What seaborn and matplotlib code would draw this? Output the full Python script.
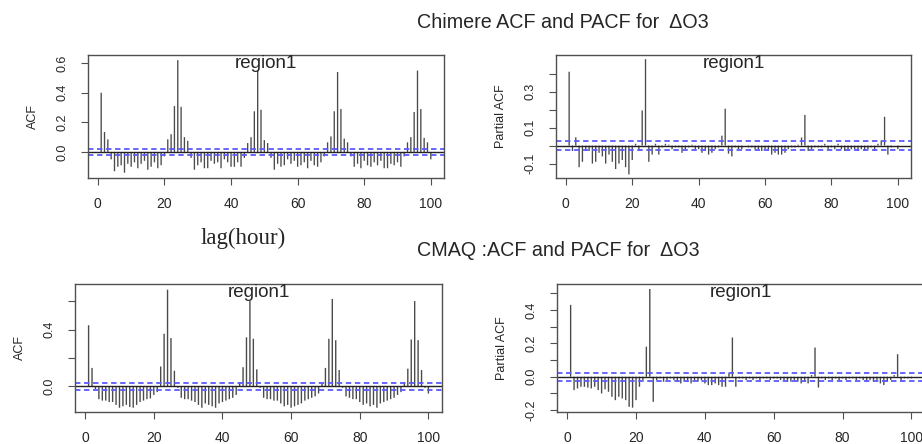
import pandas as pd
import matplotlib
matplotlib.use("Agg")
import matplotlib.pyplot as plt
import seaborn as sns

# lags 1..100 (hours)
lags = list(range(1, 101))

chimere_acf = [
    0.40, 0.135, 0.085, -0.05, -0.13, -0.10, -0.09, -0.14, -0.08, -0.10,
    -0.07, -0.11, -0.08, -0.06, -0.12, -0.10, -0.07, -0.11, -0.09, -0.03,
    0.085, 0.12, 0.31, 0.62, 0.305, 0.10, 0.075, -0.04, -0.12, -0.09,
    -0.07, -0.11, -0.11, -0.06, -0.08, -0.07, -0.11, -0.05, -0.07, -0.10,
    -0.10, -0.07, -0.10, -0.04, 0.06, 0.10, 0.275, 0.55, 0.285, 0.08,
    0.06, -0.04, -0.12, -0.08, -0.10, -0.09, -0.05, -0.08, -0.06, -0.10,
    -0.09, -0.07, -0.11, -0.06, -0.09, -0.10, -0.07, -0.03, 0.065, 0.105,
    0.275, 0.54, 0.29, 0.09, 0.065, -0.03, -0.10, -0.08, -0.11, -0.06,
    -0.09, -0.10, -0.07, -0.09, -0.06, -0.11, -0.11, -0.08, -0.09, -0.07,
    -0.10, -0.03, 0.065, 0.10, 0.27, 0.55, 0.29, 0.095, 0.065, -0.05,
]

chimere_pacf = [
    0.41, -0.03, 0.046, -0.12, -0.09, -0.03, -0.03, -0.10, -0.09, -0.04,
    -0.06, -0.10, -0.05, -0.09, -0.13, -0.10, -0.08, -0.12, -0.16, -0.08,
    0.01, -0.03, 0.195, 0.48, -0.09, -0.05, 0.01, -0.05, -0.01, 0.01,
    0.005, -0.02, -0.01, -0.01, -0.04, -0.02, -0.01, 0.005, -0.02, -0.02,
    -0.04, -0.03, -0.05, -0.04, -0.02, -0.01, 0.055, 0.205, -0.045, -0.06,
    -0.01, -0.02, -0.02, 0.0, -0.01, -0.01, -0.02, -0.02, -0.03, -0.02,
    -0.03, -0.05, -0.04, -0.05, -0.05, -0.04, -0.02, -0.01, -0.01, 0.005,
    0.045, 0.17, -0.03, -0.02, -0.01, -0.01, -0.01, 0.01, -0.02, -0.01,
    -0.02, 0.01, -0.02, -0.03, -0.03, -0.02, -0.02, -0.03, -0.02, -0.03,
    -0.02, -0.01, -0.03, 0.01, 0.028, 0.16, -0.05, -0.01, 0.0, -0.02,
]

cmaq_acf = [
    0.43, 0.13, -0.02, -0.09, -0.10, -0.10, -0.11, -0.11, -0.13, -0.15,
    -0.14, -0.13, -0.145, -0.15, -0.13, -0.11, -0.10, -0.09, -0.085, -0.06,
    -0.04, 0.14, 0.37, 0.68, 0.34, 0.11, -0.01, -0.08, -0.09, -0.09,
    -0.10, -0.11, -0.13, -0.15, -0.12, -0.13, -0.14, -0.15, -0.12, -0.11,
    -0.10, -0.09, -0.08, -0.06, 0.03, 0.135, 0.345, 0.60, 0.335, 0.12,
    -0.01, -0.08, -0.09, -0.09, -0.10, -0.10, -0.12, -0.14, -0.13, -0.15,
    -0.14, -0.13, -0.12, -0.10, -0.09, -0.08, -0.07, -0.05, 0.025, 0.13,
    0.335, 0.615, 0.325, 0.115, -0.01, -0.07, -0.08, -0.09, -0.09, -0.11,
    -0.13, -0.12, -0.14, -0.13, -0.15, -0.12, -0.11, -0.10, -0.09, -0.08,
    -0.06, -0.04, 0.03, 0.125, 0.33, 0.60, 0.325, 0.115, -0.01, -0.05,
]

cmaq_pacf = [
    0.43, -0.08, -0.07, -0.06, -0.06, -0.065, -0.07, -0.06, -0.08, -0.10,
    -0.075, -0.09, -0.12, -0.14, -0.12, -0.13, -0.14, -0.18, -0.185, -0.14,
    -0.06, -0.02, 0.18, 0.525, -0.15, -0.02, -0.01, -0.03, -0.02, -0.01,
    -0.02, -0.03, -0.04, -0.02, -0.03, -0.04, -0.02, -0.03, -0.02, -0.04,
    -0.05, -0.05, -0.04, -0.05, -0.06, -0.06, 0.02, 0.235, -0.06, -0.01,
    -0.01, -0.02, -0.01, -0.02, -0.01, -0.02, -0.01, -0.01, -0.02, -0.01,
    -0.01, -0.02, -0.02, -0.03, -0.03, -0.02, -0.03, -0.04, -0.03, -0.04,
    0.01, 0.175, -0.065, -0.01, -0.02, -0.01, -0.02, -0.01, -0.02, -0.01,
    -0.02, -0.01, -0.01, -0.02, -0.01, -0.02, -0.03, -0.02, -0.03, -0.02,
    -0.04, -0.05, -0.03, -0.02, 0.01, 0.135, -0.03, -0.01, -0.01, -0.01,
]

conf_bound = 0.023
x_ticks = [0, 20, 40, 60, 80, 100]

sns.set_style("ticks")
plt.rcParams["font.family"] = ["Liberation Sans", "DejaVu Sans"]

W, H = 922, 444
fig = plt.figure(figsize=(W / 100, H / 100), dpi=100)


def panel(box):
    left, top, right, bottom = box
    return fig.add_axes([left / W, 1 - bottom / H, (right - left) / W, (bottom - top) / H])


# values, ylabel, frame box (px), ylim, yticks, ytick labels
panels = [
    (chimere_acf, "ACF", (88, 55, 444, 178), (-0.176, 0.655),
     [0.0, 0.2, 0.4, 0.6], ["0.0", "0.2", "0.4", "0.6"]),
    (chimere_pacf, "Partial ACF", (556, 55, 911, 178), (-0.18, 0.503),
     [-0.1, 0.0, 0.1, 0.2, 0.3, 0.4], ["-0.1", "", "0.1", "", "0.3", ""]),
    (cmaq_acf, "ACF", (75, 284, 442, 412), (-0.18, 0.72),
     [0.0, 0.2, 0.4, 0.6], ["0.0", "", "0.4", ""]),
    (cmaq_pacf, "Partial ACF", (557, 284, 925, 412), (-0.211, 0.555),
     [-0.2, -0.1, 0.0, 0.1, 0.2, 0.3, 0.4, 0.5], ["-0.2", "", "0.0", "", "0.2", "", "0.4", ""]),
]

frame_col = "#505050"
for vals, ylab, box, ylim, yt, ytl in panels:
    ax = panel(box)
    df = pd.DataFrame({"lag": lags, "value": vals})
    sns.barplot(data=df, x="lag", y="value", native_scale=True, width=0.4,
                color="#4a4a4a", saturation=1, linewidth=0, errorbar=None, ax=ax)
    for bar in ax.patches:
        bar.set_snap(False)
    ax.axhline(0, color="#222222", lw=1)
    for b in (conf_bound, -conf_bound):
        ax.axhline(b, color="#5a5aff", lw=1.3, ls=(0, (3, 2)))
    ax.set_xlim(-2.96, 103.96)
    ax.set_ylim(*ylim)
    ax.set_xticks(x_ticks, labels=[str(t) for t in x_ticks])
    ax.set_yticks(yt, labels=ytl)
    for s in ax.spines.values():
        s.set_color(frame_col)
        s.set_linewidth(1)
    ax.tick_params(axis="both", length=5, width=0.8, color=frame_col, pad=9)
    ax.tick_params(axis="x", labelsize=10)
    ax.tick_params(axis="y", labelsize=9, labelrotation=90)
    for lab in ax.get_yticklabels():
        lab.set_va("center")
    ax.set_xlabel("")
    ax.set_ylabel(ylab, fontsize=9)
    ax.yaxis.set_label_coords(-55 / (box[2] - box[0]), 0.5)
    ax.yaxis.label.set_va("center")
    ax.text(0.5, 0.998, "region1", transform=ax.transAxes, ha="center", va="top", fontsize=13.5)

fig.text(417 / W, 1 - 22 / H, "Chimere ACF and PACF for  \u0394O3", ha="left", va="center", fontsize=14.2)
fig.text(417 / W, 1 - 250 / H, "CMAQ :ACF and PACF for  \u0394O3", ha="left", va="center", fontsize=14.2)
fig.text(243 / W, 1 - 238 / H, "lag(hour)", ha="center", va="center", fontsize=16.5,
         family=["Liberation Serif", "DejaVu Serif"])

fig.savefig("out.png", dpi=100)
